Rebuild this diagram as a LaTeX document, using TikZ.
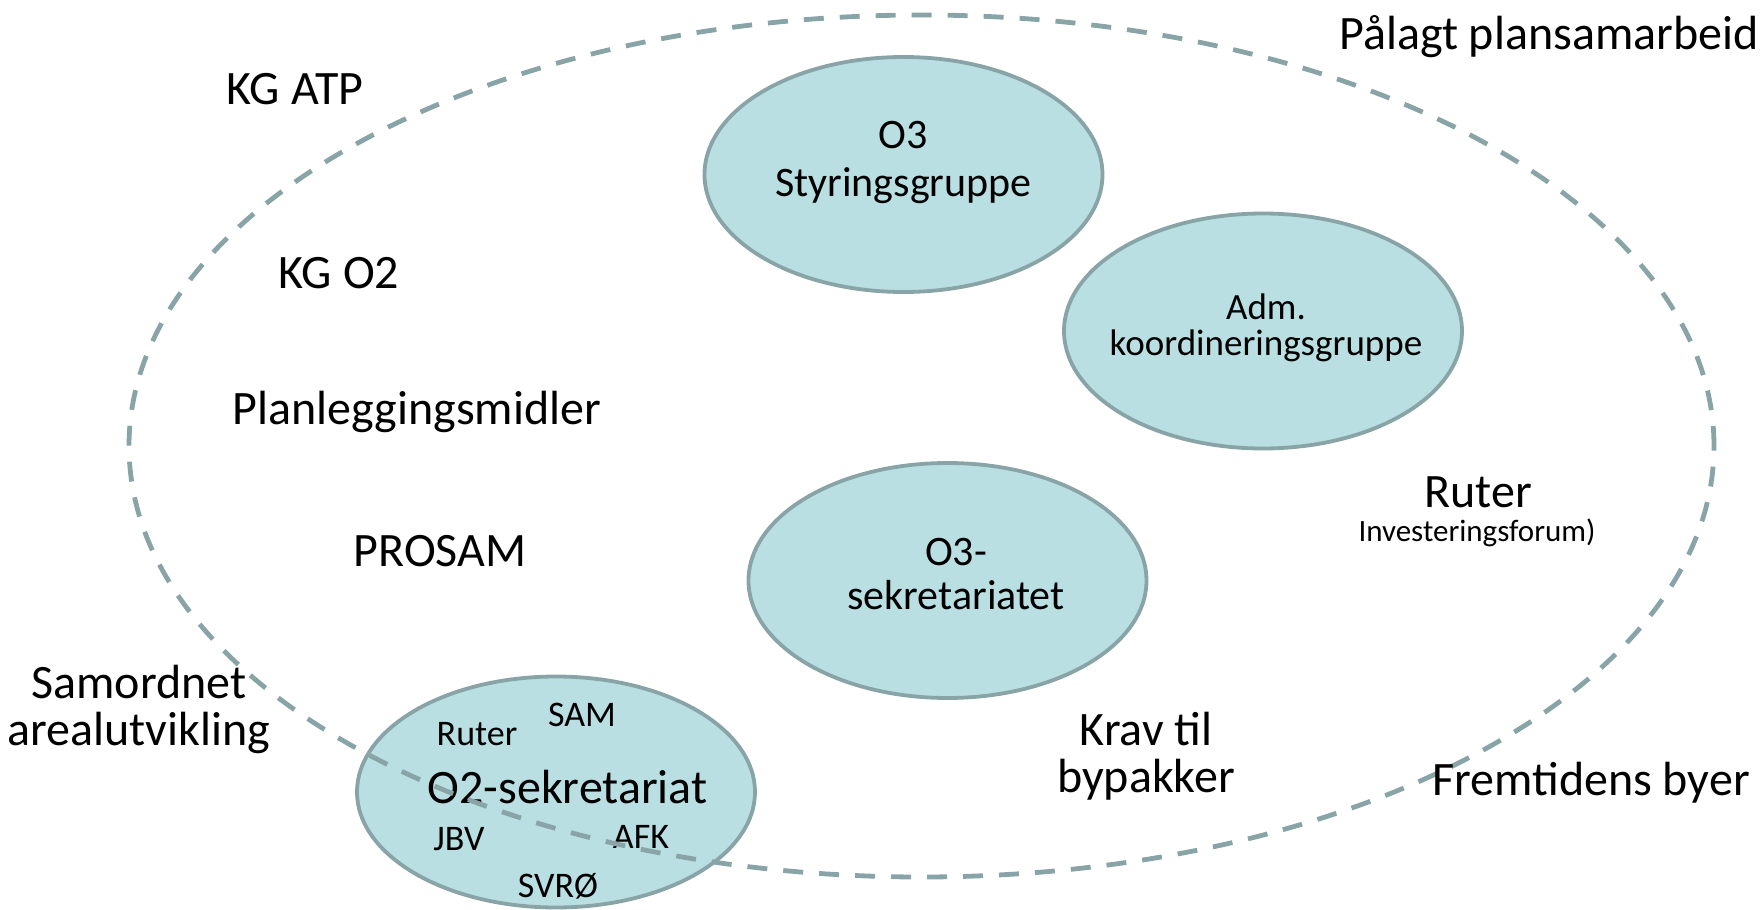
\documentclass[tikz,border=0pt]{standalone}
\usepackage{fontspec}
\setmainfont{Carlito}
\usetikzlibrary{shapes.geometric}
\definecolor{ovalfill}{HTML}{B9DFE2}
\definecolor{ovalline}{HTML}{89A4A6}

\begin{document}
\begin{tikzpicture}[x=1pt,y=-1pt,
		oval/.style={ellipse,draw=ovalline,fill=ovalfill,line width=3.8pt,inner sep=0pt,minimum width=398pt,minimum height=235pt},
		ring/.style={ellipse,draw=ovalline,line width=4.8pt,dash pattern=on 20pt off 16pt,inner sep=0pt},
		lbl/.style={anchor=base,align=center,inner sep=0pt},
		big/.style={lbl,font=\fontsize{48}{47}\selectfont},
		mid/.style={lbl,font=\fontsize{42}{48}\selectfont},
		small/.style={lbl,font=\fontsize{36}{36}\selectfont}]
		\useasboundingbox (0,0) rectangle (1764,910);
		% ovals
		\node[oval] (styr) at (903.5,174.5) {};
		\node[oval] (adm) at (1263,331) {};
		\node[oval] (sekr) at (947.5,580.5) {};
		\node[oval,minimum height=231pt] (otwo) at (556,792) {};
		% text in the ovals (base = last line)
		\node[mid] (styrtxt) at (903.5,196) {O3\\Styringsgruppe};
		\node[lbl,font=\fontsize{37}{36}\selectfont] (admtxt) at (1266,355) {Adm.\\koordineringsgruppe};
		\node[mid,font=\fontsize{42}{44}\selectfont] (sekrtxt) at (956,609) {O3-\\sekretariatet};
		\node[big] (otwotxt) at (567.5,803) {O2-sekretariat};
		\node[small] (ruterb) at (477,745) {Ruter};
		\node[small] (sam) at (582,726) {SAM};
		\node[small] (jbv) at (459,850) {JBV};
		\node[small] (afk) at (641,848) {AFK};
		\node[small] (svro) at (558,897) {SVRØ};
		% dashed ring on top
		\node[ring,minimum width=1585pt,minimum height=862pt] (plan) at (921.5,446) {};
		% labels round the ring
		\node[big] (palagt) at (1549,49) {Pålagt plansamarbeid};
		\node[big] (kgatp) at (295,104) {KG ATP};
		\node[big] (kgotwo) at (339,288) {KG O2};
		\node[big] (midler) at (417,424) {Planleggingsmidler};
		\node[big] (prosam) at (440,566) {PROSAM};
		\node[big] (samord) at (139,745) {Samordnet\\arealutvikling};
		\node[big] (ruter) at (1478,507) {Ruter};
		\node[lbl,font=\fontsize{31}{31}\selectfont] (invest) at (1477,541) {Investeringsforum)};
		\node[big] (krav) at (1146,792) {Krav til\\bypakker};
		\node[big] (fremtid) at (1591,795) {Fremtidens byer};
	\end{tikzpicture}
\end{document}
